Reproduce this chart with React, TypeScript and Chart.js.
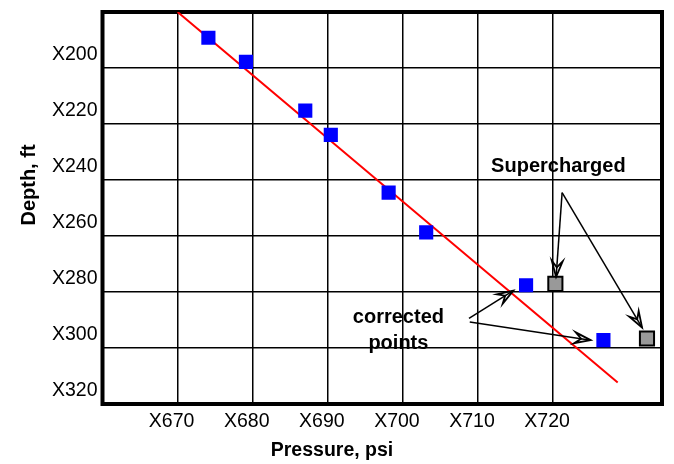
import { useEffect, useRef } from "react";
import { Chart, registerables } from "chart.js";

Chart.register(...registerables);

const FONT = "'Liberation Sans', Arial, Helvetica, sans-serif";

// Corrected pressure readings (psi) and their depths (ft, X-prefixed)
const correctedPressure = [674.1, 679.1, 687.0, 690.4, 698.1, 703.1, 716.4, 726.7];
const correctedDepth = [189.2, 197.8, 215.2, 223.9, 244.5, 258.7, 277.6, 297.2];

// Supercharged readings before correction
const superchargedPressure = [720.3, 732.5];
const superchargedDepth = [277.1, 296.6];

// Formation pressure gradient line
const gradientPressure = [670, 728.6];
const gradientDepth = [180, 312.3];

// Axis ticks
const pressureTicks = [670, 680, 690, 700, 710, 720];
const depthTicks = [200, 220, 240, 260, 280, 300, 320];

// Callout text anchors (pressure, depth of the text baseline)
const superLabel = { text: ["Supercharged"], x: 720.7, y: 237.3 };
const correctedLabel = { text: ["corrected", "points"], x: 699.4, y: 291.2 };

// Callout arrows: [fromPressure, fromDepth, toPressure, toDepth]
const calloutArrows = [
  [721.2, 244.5, 720.4, 274.6],
  [721.2, 244.5, 731.85, 292.7],
  [708.8, 289.4, 714.7, 279.5],
  [708.9, 290.7, 725.0, 297.2],
];

function drawArrow(ctx: CanvasRenderingContext2D, x1: number, y1: number, x2: number, y2: number) {
  const ang = Math.atan2(y2 - y1, x2 - x1);
  const L = 16;
  const W = 5.5;
  ctx.save();
  ctx.strokeStyle = "#000";
  ctx.lineWidth = 1.5;
  ctx.lineJoin = "miter";
  ctx.beginPath();
  ctx.moveTo(x1, y1);
  ctx.lineTo(x2, y2);
  ctx.stroke();
  // open barbed head
  ctx.translate(x2, y2);
  ctx.rotate(ang);
  ctx.lineWidth = 1.8;
  ctx.beginPath();
  ctx.moveTo(0, 0);
  ctx.lineTo(-L, -W);
  ctx.lineTo(-L * 0.6, 0);
  ctx.lineTo(-L, W);
  ctx.closePath();
  ctx.stroke();
  ctx.restore();
}

const overlay = {
  id: "overlay",
  beforeDatasetsDraw(chart: any) {
    const { ctx, chartArea } = chart;
    ctx.save();
    ctx.strokeStyle = "#000";
    ctx.lineWidth = 4;
    ctx.strokeRect(chartArea.left, chartArea.top, chartArea.right - chartArea.left, chartArea.bottom - chartArea.top);
    ctx.restore();
  },
  afterDatasetsDraw(chart: any) {
    const { ctx } = chart;
    const xs = chart.scales.x;
    const ys = chart.scales.y;
    const px = (v: number) => xs.getPixelForValue(v);
    const py = (v: number) => ys.getPixelForValue(v);

    for (const a of calloutArrows) {
      drawArrow(ctx, px(a[0]), py(a[1]), px(a[2]), py(a[3]));
    }

    ctx.save();
    ctx.fillStyle = "#000";
    ctx.font = `bold 20px ${FONT}`;
    ctx.textAlign = "center";
    ctx.textBaseline = "alphabetic";
    for (const lbl of [superLabel, correctedLabel]) {
      lbl.text.forEach((t, i) => {
        ctx.fillText(t, px(lbl.x), py(lbl.y) + i * 26);
      });
    }
    ctx.restore();
  },
  afterDraw(chart: any) {
    const { ctx } = chart;
    ctx.save();
    ctx.fillStyle = "#000";
    ctx.font = `bold 19.5px ${FONT}`;
    ctx.textAlign = "center";
    ctx.textBaseline = "alphabetic";
    ctx.fillText("Pressure, psi", 332, 455.7);
    ctx.translate(35, 185);
    ctx.rotate(-Math.PI / 2);
    ctx.font = `bold 20px ${FONT}`;
    ctx.fillText("Depth, ft", 0, 0);
    ctx.restore();
  },
};

export default function App() {
  const ref = useRef<HTMLCanvasElement>(null);

  useEffect(() => {
    document.body.style.margin = "0";
    const canvas = ref.current;
    if (!canvas) return;

    const grid = { color: "#000", lineWidth: 1.5, drawTicks: false };
    const tickFont = { family: FONT, size: 19.5 };

    const chart = new Chart(canvas, {
      type: "scatter",
      data: {
        datasets: [
          {
            label: "Corrected points",
            data: correctedPressure.map((x, i) => ({ x, y: correctedDepth[i] })),
            pointStyle: "rect",
            pointRadius: 10,
            backgroundColor: "#0000ff",
            borderColor: "#0000ff",
            borderWidth: 0,
          },
          {
            label: "Supercharged",
            data: superchargedPressure.map((x, i) => ({ x, y: superchargedDepth[i] })),
            pointStyle: "rect",
            pointRadius: 10,
            backgroundColor: "#999999",
            borderColor: "#000",
            borderWidth: 2,
          },
          {
            label: "Gradient",
            data: gradientPressure.map((x, i) => ({ x, y: gradientDepth[i] })),
            showLine: true,
            borderColor: "#ff0000",
            borderWidth: 2,
            pointRadius: 0,
            fill: false,
          },
        ],
      },
      options: {
        animation: false,
        responsive: false,
        layout: { padding: { top: 11.3, right: 8, bottom: 0, left: 0 } },
        plugins: {
          legend: { display: false },
          tooltip: { enabled: false },
        },
        scales: {
          x: {
            type: "linear",
            min: 660,
            max: 734.5,
            afterBuildTicks: (s: any) => {
              s.ticks = pressureTicks.map((value) => ({ value }));
            },
            afterFit: (s: any) => {
              s.height = 60;
              s.paddingLeft = 0;
              s.paddingRight = 0;
            },
            grid,
            border: { display: false },
            ticks: {
              callback: (v: any) => "X" + v,
              font: tickFont,
              color: "#000",
              padding: 6,
              labelOffset: -6,
              maxRotation: 0,
              autoSkip: false,
            },
          },
          y: {
            type: "linear",
            reverse: true,
            min: 180,
            max: 320,
            afterBuildTicks: (s: any) => {
              s.ticks = depthTicks.map((value) => ({ value }));
            },
            afterFit: (s: any) => {
              s.width = 102.5;
              s.paddingTop = 0;
              s.paddingBottom = 0;
            },
            grid,
            border: { display: false },
            ticks: {
              callback: (v: any) => "X" + v,
              font: tickFont,
              color: "#000",
              padding: 5,
              labelOffset: -13.5,
              autoSkip: false,
            },
          },
        },
      },
      plugins: [overlay],
    } as any);

    return () => chart.destroy();
  }, []);

  return <canvas ref={ref} width={674} height={464} style={{ display: "block" }} />;
}
